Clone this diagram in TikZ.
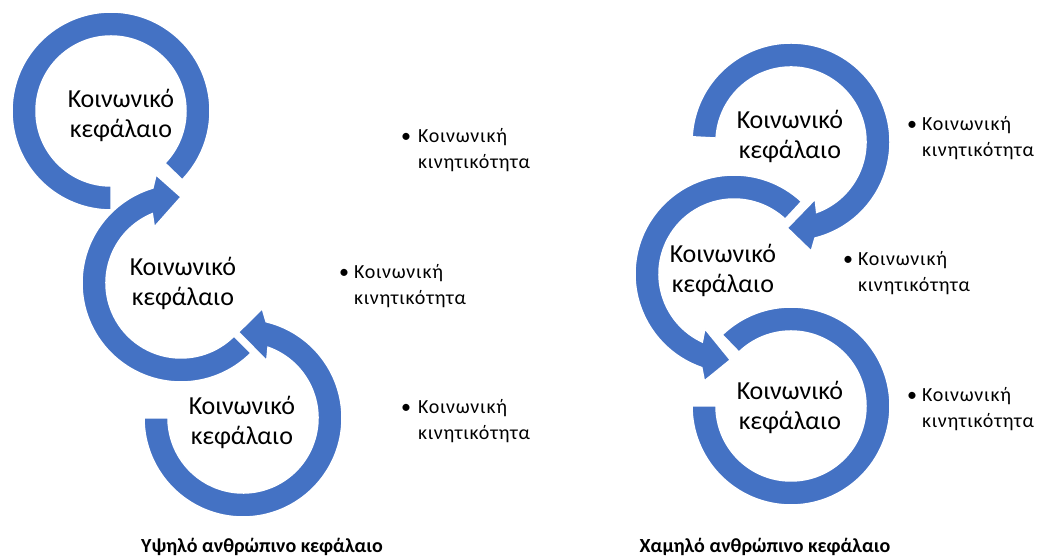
\documentclass[tikz,border=0pt]{standalone}
\usepackage{fontspec}
\setmainfont{Carlito}
\newfontfamily\bulfont[LetterSpace=4]{Carlito}
\definecolor{ringblue}{RGB}{68,114,196}
\tikzset{
  ring/.style={fill=ringblue, draw=white, line width=1.5pt, line join=miter},
  lbl/.style={font=\fontsize{26}{30}\selectfont, align=center, inner sep=0pt},
  btext/.style={font=\bulfont\fontsize{20}{26}\selectfont, align=left, inner sep=0pt, anchor=base west},
  bul/.style={font=\fontsize{20}{26}\selectfont, inner sep=0pt, anchor=base},
  captext/.style={font=\bfseries\fontsize{20}{22}\selectfont, inner sep=0pt, anchor=base}
}
\newcommand\plainring[3]{%
  \path[ring, shift={(#1)}] (#2:99) arc[start angle=#2, end angle=#3, radius=99] -- (#3:75) arc[start angle=#3, end angle=#2, radius=75] -- cycle;}
\newcommand\ccwarrow[3]{%
  \path[ring, shift={(#1)}] (#2:99) arc[start angle=#2, end angle={#3+3}, radius=99] -- ({#3+6.5}:111) -- ({#3+19.5}:86) -- ({#3-6}:62) -- ({#3-3}:75) arc[start angle={#3-3}, end angle=#2, radius=75] -- cycle;}
\newcommand\cwarrow[3]{%
  \path[ring, shift={(#1)}] (#2:99) arc[start angle=#2, end angle={#3-3}, radius=99] -- ({#3-6.5}:111) -- ({#3-19.5}:86) -- ({#3+6}:62) -- ({#3+3}:75) arc[start angle={#3+3}, end angle=#2, radius=75] -- cycle;}
\begin{document}
\begin{tikzpicture}[x=1pt,y=1pt]
\useasboundingbox (0,0) rectangle (1039,556);
% centres
\coordinate (c1) at (111,445);
\coordinate (c2) at (181,273);
\coordinate (c3) at (243,138);
\coordinate (cA) at (791,414);
\coordinate (cB) at (734,282);
\coordinate (cC) at (791,150);
% left diagram
\plainring{c1}{-44}{270}
\cwarrow{c2}{-45}{-250.5}
\ccwarrow{c3}{180}{433.5}
% right diagram
\plainring{cC}{134}{-180}
\ccwarrow{cB}{47}{248}
\cwarrow{cA}{177}{-73}
% labels
\node[lbl] (t1) at (121,441) {Κοινωνικό\\κεφάλαιο};
\node[lbl] (t2) at (183,273) {Κοινωνικό\\κεφάλαιο};
\node[lbl] (t3) at (242,134) {Κοινωνικό\\κεφάλαιο};
\node[lbl] (tA) at (790,420) {Κοινωνικό\\κεφάλαιο};
\node[lbl] (tB) at (723,286) {Κοινωνικό\\κεφάλαιο};
\node[lbl] (tC) at (790,149) {Κοινωνικό\\κεφάλαιο};
% bullets (text node base = second line)
\node[bul] (p1) at (406,413) {•};
\node[btext] (q1) at (418,387) {Κοινωνική\\κινητικότητα};
\node[bul] (p2) at (344,277) {•};
\node[btext] (q2) at (354,251) {Κοινωνική\\κινητικότητα};
\node[bul] (p3) at (406,142) {•};
\node[btext] (q3) at (418,116) {Κοινωνική\\κινητικότητα};
\node[bul] (pA) at (912,425) {•};
\node[btext] (qA) at (922,399) {Κοινωνική\\κινητικότητα};
\node[bul] (pB) at (848,290) {•};
\node[btext] (qB) at (858,264) {Κοινωνική\\κινητικότητα};
\node[bul] (pC) at (912,154) {•};
\node[btext] (qC) at (922,128) {Κοινωνική\\κινητικότητα};
% captions
\node[captext] (capL) at (262,3) {Υψηλό ανθρώπινο κεφάλαιο};
\node[captext] (capR) at (765,3) {Χαμηλό ανθρώπινο κεφάλαιο};
\end{tikzpicture}
\end{document}
